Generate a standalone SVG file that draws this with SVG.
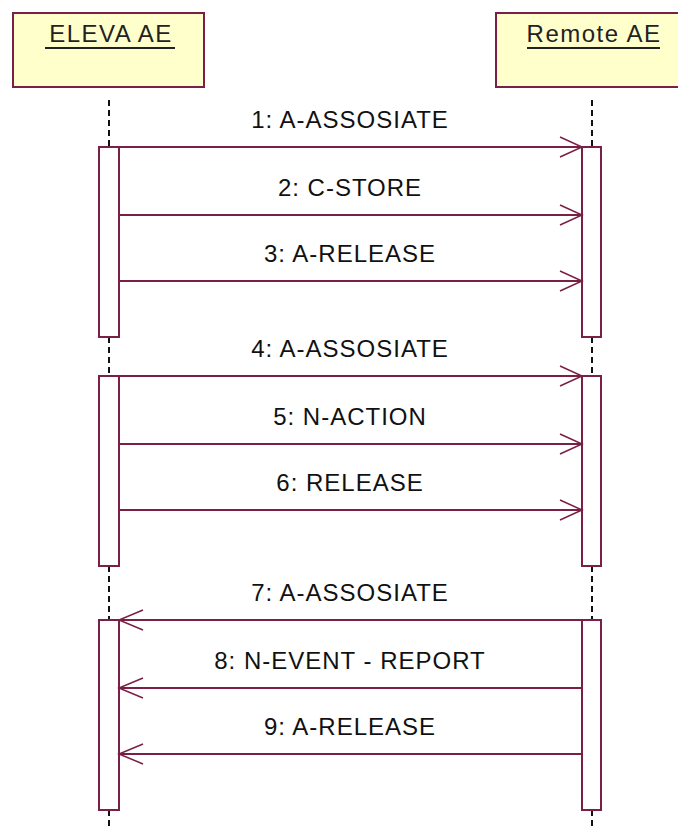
<svg xmlns="http://www.w3.org/2000/svg" width="678" height="827" viewBox="0 0 678 827">
<style>
.box{fill:#ffffcc;stroke:#7a1f45;stroke-width:2}
.title{font-family:"Liberation Sans",Arial,sans-serif;font-size:24px;letter-spacing:1.5px;fill:#222;text-anchor:middle}
.ul{stroke:#222;stroke-width:2}
.life{stroke:#111;stroke-width:2;stroke-dasharray:6,4;fill:none}
.act{fill:#ffffff;stroke:#7a1f45;stroke-width:2}
.msg{stroke:#7a1f45;stroke-width:2;fill:none}
.head{stroke:#7a1f45;stroke-width:1.5;fill:none}
.lbl{font-family:"Liberation Sans",Arial,sans-serif;font-size:24px;letter-spacing:1px;fill:#111;text-anchor:middle}
</style>
<rect width="678" height="827" fill="#ffffff"/>
<g id="eleva">
<rect class="box" x="13" y="13" width="191" height="74"/>
<text class="title" x="111" y="42">ELEVA AE</text>
<line class="ul" x1="45" y1="48" x2="175" y2="48"/>
<path class="life" d="M109,100V147M109,337V376M109,566V620M109,810V827"/>
<rect class="act" x="99" y="147" width="20" height="190"/>
<rect class="act" x="99" y="376" width="20" height="190"/>
<rect class="act" x="99" y="620" width="20" height="190"/>
</g>
<g id="remote">
<rect class="box" x="496" y="13" width="190" height="74"/>
<text class="title" x="594" y="42">Remote AE</text>
<line class="ul" x1="527" y1="48" x2="660" y2="48"/>
<path class="life" d="M592,100V147M592,337V376M592,566V620M592,810V827"/>
<rect class="act" x="582" y="147" width="19" height="190"/>
<rect class="act" x="582" y="376" width="19" height="190"/>
<rect class="act" x="582" y="620" width="19" height="190"/>
</g>
<g id="connectors">
<line class="msg" x1="119" y1="147" x2="582" y2="147"/>
<path class="head" d="M560,137L582,147L560,157"/>
<line class="msg" x1="119" y1="215" x2="582" y2="215"/>
<path class="head" d="M560,205L582,215L560,225"/>
<line class="msg" x1="119" y1="281" x2="582" y2="281"/>
<path class="head" d="M560,271L582,281L560,291"/>
<line class="msg" x1="119" y1="376" x2="582" y2="376"/>
<path class="head" d="M560,366L582,376L560,386"/>
<line class="msg" x1="119" y1="444" x2="582" y2="444"/>
<path class="head" d="M560,434L582,444L560,454"/>
<line class="msg" x1="119" y1="510" x2="582" y2="510"/>
<path class="head" d="M560,500L582,510L560,520"/>
<line class="msg" x1="582" y1="620" x2="119" y2="620"/>
<path class="head" d="M143,610L119,620L143,630"/>
<line class="msg" x1="582" y1="688" x2="119" y2="688"/>
<path class="head" d="M143,678L119,688L143,698"/>
<line class="msg" x1="582" y1="754" x2="119" y2="754"/>
<path class="head" d="M143,744L119,754L143,764"/>
</g>
<g id="labels">
<text class="lbl" x="350" y="128">1: A-ASSOSIATE</text>
<text class="lbl" x="350" y="196">2: C-STORE</text>
<text class="lbl" x="350" y="262">3: A-RELEASE</text>
<text class="lbl" x="350" y="357">4: A-ASSOSIATE</text>
<text class="lbl" x="350" y="425">5: N-ACTION</text>
<text class="lbl" x="350" y="491">6: RELEASE</text>
<text class="lbl" x="350" y="601">7: A-ASSOSIATE</text>
<text class="lbl" x="350" y="669">8: N-EVENT - REPORT</text>
<text class="lbl" x="350" y="735">9: A-RELEASE</text>
</g>
</svg>
